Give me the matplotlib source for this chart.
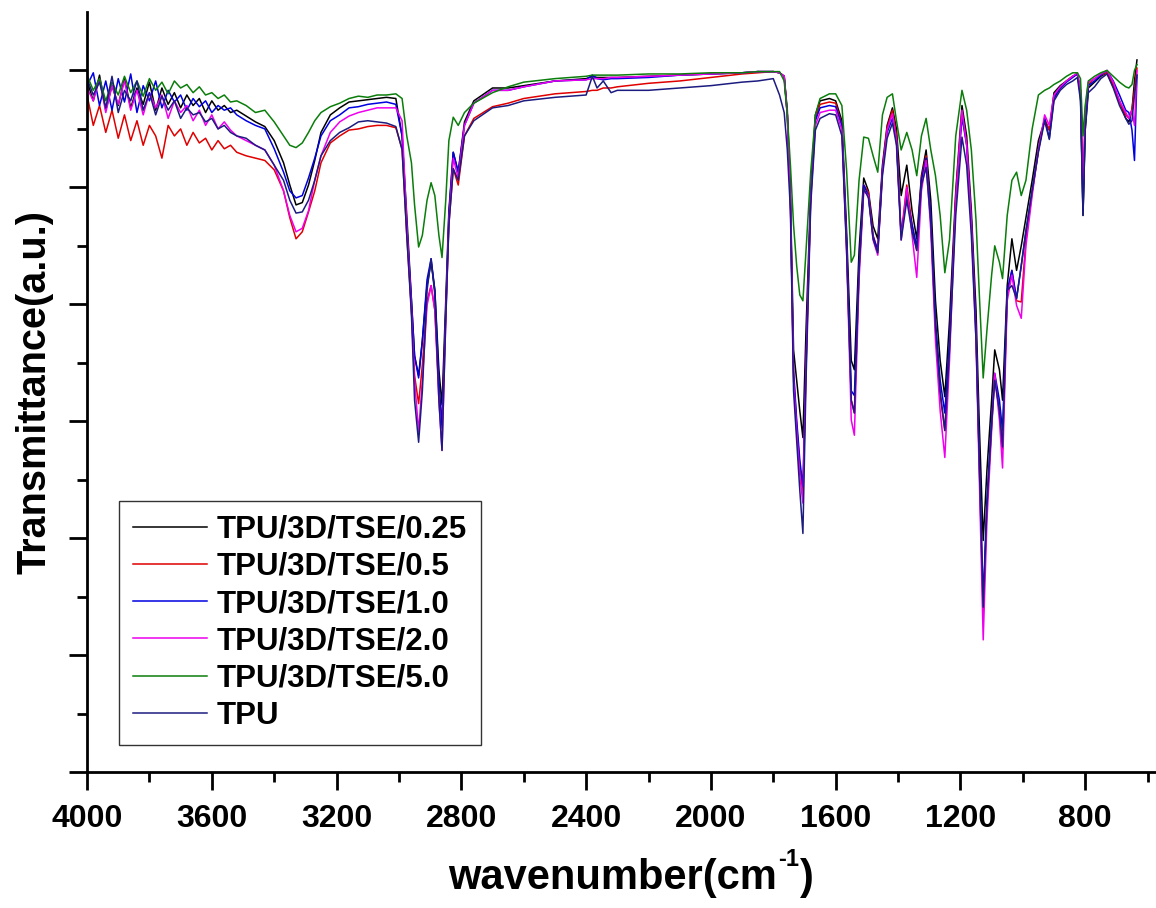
import matplotlib
matplotlib.use('Agg')
import matplotlib.pyplot as plt
from matplotlib.ticker import FixedLocator
from matplotlib.offsetbox import (TextArea, HPacker, VPacker, DrawingArea,
                                  AnchoredOffsetbox)

plt.rcParams['font.family'] = ['Liberation Sans', 'DejaVu Sans']
plt.rcParams['font.weight'] = 'bold'

# wavenumber grid (cm-1)
wavenumber = [
    4000, 3980, 3960, 3940, 3920, 3900, 3880, 3860, 3840, 3820, 3800, 3780, 3760,
    3740, 3720, 3700, 3680, 3660, 3640, 3620, 3600, 3580, 3560, 3540, 3520,
    3490, 3460, 3430, 3400, 3370, 3350, 3330, 3310, 3290, 3270, 3250, 3220, 3190,
    3160, 3130, 3100, 3070, 3040, 3010, 2990, 2975,
    2960, 2950, 2937, 2925, 2910, 2897, 2885, 2872, 2862, 2850, 2840, 2826, 2810,
    2790, 2760, 2700,
    2650, 2600, 2500, 2400, 2380, 2365, 2345, 2320, 2300, 2200, 2100, 2000, 1900,
    1850, 1800, 1780, 1765, 1755,
    1745, 1735, 1725, 1715, 1705, 1695, 1680, 1665, 1650, 1620,
    1600, 1580, 1565, 1550, 1540, 1525, 1510, 1495, 1480, 1465,
    1450, 1435, 1418, 1405, 1390, 1372, 1355, 1340, 1325, 1310,
    1295, 1280, 1265, 1250, 1235, 1215, 1195, 1180, 1165, 1150,
    1140, 1127, 1115, 1100, 1090, 1075, 1065, 1050, 1035, 1020,
    1005, 990, 970, 950, 930, 915, 900, 880, 860, 840,
    825, 815, 807, 800, 790, 770, 750, 730, 710, 690,
    670, 660, 650, 642, 634,
]

tse_025 = [
    59.1, 57.4, 59.6, 56.6, 58.7, 57.0, 59.3, 56.8, 58.5, 57.1, 59.0, 56.6, 58.5,
    57.1, 58.1, 56.8, 57.9, 57.0, 57.6, 56.4, 57.4, 56.6, 57.0, 56.4, 56.6,
    56.1, 55.6, 55.2, 54.0, 52.1, 50.2, 48.5, 48.7, 50.2, 52.3, 54.7, 56.2, 56.8,
    57.3, 57.4, 57.5, 57.6, 57.7, 57.6, 54.4, 47.6,
    40.3, 35.6, 33.9, 36.9, 41.6, 43.6, 41.2, 34.4, 31.4, 40.3, 48.0, 53.0, 51.3,
    55.6, 57.4, 58.5,
    58.5, 58.7, 59.1, 59.3, 59.5, 59.4, 59.4, 59.4, 59.4, 59.5, 59.6, 59.7, 59.8,
    59.9, 59.9, 59.8, 59.5, 56.6,
    49.5, 36.1, 33.5, 30.9, 28.6, 37.8, 49.7, 56.2, 57.4, 57.6,
    57.4, 55.7, 46.3, 35.2, 34.4, 44.6, 50.8, 49.7, 46.7, 45.6,
    51.9, 55.3, 56.8, 55.0, 49.3, 51.9, 48.0, 45.6, 51.0, 53.2,
    48.9, 40.3, 35.2, 32.1, 38.6, 49.7, 57.0, 54.4, 48.0, 39.5,
    30.1, 19.8, 25.8, 31.8, 36.1, 34.4, 31.8, 41.6, 45.6, 42.9,
    45.0, 47.4, 50.6, 54.0, 55.7, 54.9, 58.1, 58.7, 59.1, 59.5,
    59.7, 57.9, 47.6, 54.9, 58.5, 59.0, 59.5, 59.8, 58.6, 57.4,
    55.9, 55.6, 56.6, 59.1, 60.9,
]

tse_05 = [
    57.9, 55.3, 57.0, 54.7, 56.6, 54.2, 56.2, 54.0, 55.7, 53.6, 55.3, 54.4, 52.5,
    55.3, 54.4, 55.0, 53.6, 54.7, 53.8, 54.2, 53.2, 54.0, 53.3, 53.6, 53.0,
    52.7, 52.5, 52.3, 51.5, 49.7, 47.4, 45.6, 46.2, 47.9, 49.7, 52.1, 53.8, 54.4,
    54.9, 55.0, 55.2, 55.3, 55.3, 55.1, 53.3, 45.9,
    39.5, 33.9, 31.5, 34.8, 40.3, 41.6, 39.5, 32.6, 29.9, 39.1, 46.8, 51.6, 50.2,
    54.4, 55.9, 56.9,
    57.2, 57.6, 58.0, 58.2, 58.3, 58.3, 58.5, 58.5, 58.6, 58.9, 59.1, 59.4, 59.7,
    59.8, 59.9, 59.8, 59.5, 56.2,
    48.9, 33.9, 29.7, 26.2, 23.8, 34.8, 49.3, 55.9, 57.1, 57.3,
    57.2, 55.3, 45.0, 31.8, 30.7, 42.9, 50.2, 49.6, 45.9, 44.6,
    51.5, 55.1, 56.6, 54.4, 45.9, 50.2, 46.8, 44.6, 50.8, 52.7,
    47.2, 37.8, 32.2, 29.2, 36.5, 49.3, 56.4, 53.8, 47.2, 37.8,
    26.7, 13.4, 22.8, 29.7, 33.9, 30.9, 27.6, 40.8, 42.9, 40.3,
    40.2, 45.5, 49.6, 53.2, 55.9, 54.9, 57.8, 58.5, 59.1, 59.5,
    59.7, 58.3, 49.3, 56.2, 58.8, 59.3, 59.6, 59.8, 58.8, 57.3,
    56.2, 55.9, 56.7, 58.3, 60.2,
]

tse_10 = [
    58.7, 59.8, 57.0, 59.1, 56.6, 59.3, 57.3, 59.7, 56.4, 58.7, 57.4, 59.1, 56.8,
    58.3, 57.3, 57.9, 56.6, 57.6, 56.9, 57.4, 56.4, 57.0, 56.6, 56.8, 56.2,
    55.7, 55.3, 55.0, 53.3, 51.3, 49.7, 49.1, 49.3, 50.8, 52.5, 54.4, 55.7, 56.2,
    56.8, 56.9, 57.1, 57.2, 57.3, 57.1, 54.4, 46.8,
    40.3, 35.6, 33.7, 36.9, 42.1, 43.9, 41.2, 33.5, 29.4, 39.5, 47.6, 53.0, 51.3,
    55.3, 57.2, 58.3,
    58.3, 58.6, 59.1, 59.2, 59.6, 59.3, 59.2, 59.3, 59.3, 59.4, 59.6, 59.7, 59.8,
    59.9, 59.9, 59.8, 59.5, 56.2,
    48.9, 34.4, 30.1, 26.7, 24.4, 35.2, 49.3, 55.7, 56.8, 57.0,
    56.9, 55.3, 45.5, 32.6, 32.2, 43.3, 50.2, 49.3, 45.8, 44.6,
    51.5, 54.7, 55.9, 54.0, 45.9, 49.3, 46.8, 44.9, 50.6, 52.5,
    47.6, 38.6, 33.5, 30.7, 36.9, 48.9, 56.0, 53.6, 47.2, 37.8,
    27.5, 14.7, 23.2, 30.1, 34.1, 31.8, 29.2, 41.2, 42.9, 40.5,
    43.3, 46.2, 49.7, 53.2, 55.9, 54.2, 57.6, 58.5, 59.0, 59.4,
    59.7, 57.9, 48.0, 55.3, 58.7, 59.1, 59.6, 60.0, 59.1, 57.9,
    56.6, 56.4, 54.9, 52.3, 59.6,
]

tse_20 = [
    58.5, 57.4, 59.3, 56.4, 58.7, 57.1, 59.1, 56.6, 58.3, 56.2, 58.1, 56.8, 57.9,
    55.9, 57.4, 56.4, 57.0, 55.7, 56.6, 55.3, 56.2, 55.0, 55.6, 54.9, 54.4,
    54.0, 53.6, 53.2, 51.9, 49.7, 47.6, 46.2, 46.5, 48.0, 50.6, 52.7, 54.7, 55.6,
    56.1, 56.4, 56.6, 56.8, 56.8, 56.8, 55.7, 46.8,
    39.5, 33.5, 29.1, 33.5, 39.9, 41.6, 39.5, 31.8, 27.5, 38.6, 47.2, 52.5, 50.8,
    55.3, 57.2, 58.3,
    58.3, 58.6, 59.1, 59.2, 59.3, 59.3, 59.3, 59.4, 59.4, 59.5, 59.6, 59.7, 59.8,
    59.9, 59.9, 59.8, 59.5, 56.2,
    48.5, 33.5, 29.2, 25.4, 23.0, 34.4, 48.9, 55.3, 56.4, 56.6,
    56.6, 54.9, 44.6, 30.1, 28.8, 42.1, 49.7, 49.3, 45.5, 44.2,
    51.3, 54.9, 56.3, 54.0, 45.5, 50.0, 45.9, 42.3, 49.7, 52.3,
    46.3, 36.9, 30.9, 26.9, 35.2, 48.9, 56.6, 53.6, 46.8, 36.9,
    25.8, 11.3, 21.5, 29.2, 34.1, 30.1, 26.0, 40.3, 42.5, 39.9,
    38.8, 45.0, 49.3, 53.2, 56.2, 55.3, 57.9, 58.6, 59.1, 59.5,
    59.8, 58.3, 49.7, 56.6, 59.0, 59.3, 59.7, 60.0, 59.0, 57.4,
    56.4, 55.9, 56.6, 55.3, 60.0,
]

tse_50 = [
    59.6, 58.3, 59.3, 57.4, 59.0, 57.9, 59.5, 58.1, 59.1, 57.8, 59.3, 58.3, 59.0,
    58.0, 59.1, 58.5, 58.8, 58.1, 58.6, 57.9, 58.1, 57.6, 57.9, 57.3, 57.4,
    57.0, 56.4, 56.6, 55.6, 54.4, 53.6, 53.4, 53.8, 54.7, 55.7, 56.4, 56.9, 57.2,
    57.6, 57.8, 57.7, 57.9, 57.9, 58.0, 57.6, 54.4,
    52.1, 48.5, 44.9, 45.9, 48.9, 50.4, 49.3, 45.9, 44.0, 48.9, 54.0, 56.0, 55.3,
    56.4, 57.2, 58.1,
    58.6, 59.0, 59.3, 59.5, 59.6, 59.6, 59.6, 59.6, 59.6, 59.7, 59.7, 59.8, 59.8,
    59.9, 59.9, 59.9, 59.1, 56.2,
    51.9, 46.8, 43.3, 40.8, 40.3, 44.6, 51.3, 56.2, 57.6, 58.0,
    58.0, 57.0, 51.5, 43.6, 44.2, 50.6, 54.3, 54.2, 52.7, 51.3,
    56.2, 57.7, 58.0, 55.7, 53.2, 54.7, 53.2, 51.0, 54.4, 55.9,
    53.2, 51.0, 47.6, 42.7, 45.5, 54.4, 58.3, 56.6, 53.2, 47.2,
    41.2, 33.7, 37.8, 42.5, 45.0, 43.6, 42.2, 47.6, 50.6, 51.3,
    49.3, 50.6, 55.0, 57.9, 58.3, 58.5, 58.8, 59.1, 59.5, 59.8,
    59.8, 59.3, 54.4, 57.0, 59.1, 59.5, 59.8, 60.0, 59.5, 59.0,
    58.6, 58.5, 58.8, 60.0, 60.5,
]

tpu = [
    59.3, 57.9, 59.0, 56.8, 59.5, 56.4, 58.3, 57.4, 59.1, 56.6, 58.1, 56.2, 57.8,
    56.6, 57.4, 55.9, 56.8, 56.2, 56.4, 55.6, 55.9, 55.0, 55.3, 54.7, 54.4,
    54.2, 53.6, 53.2, 51.9, 50.6, 48.9, 47.8, 47.9, 48.9, 50.6, 52.7, 54.0, 54.7,
    55.1, 55.6, 55.7, 55.6, 55.5, 55.2, 53.2, 45.9,
    39.1, 31.8, 28.2, 32.6, 41.2, 43.9, 40.8, 31.8, 27.5, 38.6, 46.8, 51.6, 50.6,
    54.4, 55.7, 56.8,
    57.0, 57.4, 57.7, 57.9, 59.5, 58.5, 59.1, 58.1, 58.3, 58.3, 58.5, 58.7, 59.0,
    59.1, 59.3, 57.9, 56.4, 53.2,
    48.0, 32.6, 28.4, 24.1, 20.4, 33.5, 48.5, 54.9, 55.9, 56.3,
    56.2, 54.4, 44.6, 31.8, 30.7, 42.9, 49.9, 49.1, 45.6, 44.4,
    51.0, 54.2, 55.5, 53.6, 45.5, 48.9, 46.2, 44.6, 50.2, 51.7,
    47.0, 38.2, 32.6, 29.2, 36.1, 47.6, 54.3, 51.9, 45.9, 36.9,
    27.1, 14.1, 22.8, 29.7, 33.5, 30.9, 27.8, 41.2, 41.6, 40.5,
    43.3, 46.3, 49.7, 53.0, 55.7, 54.1, 57.4, 58.3, 58.8, 59.1,
    59.4, 57.4, 47.6, 54.9, 58.1, 58.6, 59.3, 59.7, 58.5, 57.0,
    55.9, 55.4, 55.7, 57.9, 59.6,
]

labels = ['TPU/3D/TSE/0.25', 'TPU/3D/TSE/0.5', 'TPU/3D/TSE/1.0',
          'TPU/3D/TSE/2.0', 'TPU/3D/TSE/5.0', 'TPU']
colors = ['#000000', '#e00000', '#0000e0', '#ee00ee', '#0a7d0a', '#1c1c80']
series = [tse_025, tse_05, tse_10, tse_20, tse_50, tpu]

fig = plt.figure(figsize=(11.56, 9.08), dpi=100)
ax = fig.add_axes([0.0753, 0.1498, 0.9247, 0.8370])

for y, lab, c in zip(series, labels, colors):
    ax.plot(wavenumber, y, color=c, lw=1.1, label=lab)

ax.set_xlim(4000, 573)
ax.set_ylim(0, 65)

ax.xaxis.set_major_locator(FixedLocator(list(range(4000, 799, -400))))
ax.xaxis.set_minor_locator(FixedLocator(list(range(3800, 599, -400))))
ax.yaxis.set_major_locator(FixedLocator(list(range(0, 61, 10))))
ax.yaxis.set_minor_locator(FixedLocator(list(range(5, 60, 10))))
ax.tick_params(which='major', direction='out', length=13, width=2,
               labelsize=23, pad=10)
ax.tick_params(which='minor', direction='out', length=7, width=2)
ax.tick_params(axis='y', labelleft=False)
for lbl in ax.get_xticklabels():
    lbl.set_fontweight('bold')

ax.spines['top'].set_visible(False)
ax.spines['right'].set_visible(False)
ax.spines['left'].set_linewidth(2)
ax.spines['bottom'].set_linewidth(2)

# x label, superscript raised with a spacer below it
sup = VPacker(children=[
    TextArea('-1', textprops=dict(fontsize=17, fontweight='bold')),
    DrawingArea(1, 19),
], align='left', pad=0, sep=0)
xl = HPacker(children=[
    TextArea('wavenumber(cm', textprops=dict(fontsize=30, fontweight='bold')),
    sup,
    TextArea(')', textprops=dict(fontsize=30, fontweight='bold')),
], align='bottom', pad=0, sep=1)
fig.add_artist(AnchoredOffsetbox(loc='center', child=xl, frameon=False,
                                 bbox_to_anchor=(631 / 1156, 1 - 873 / 908),
                                 bbox_transform=fig.transFigure,
                                 pad=0, borderpad=0))

ax.set_ylabel('Transmittance(a.u.)', fontsize=28.5, fontweight='bold')
ax.yaxis.set_label_coords(-0.031, 0.5)

leg = ax.legend(loc='upper left', bbox_to_anchor=(0.030, 0.357),
                fontsize=22.5, frameon=True, fancybox=False,
                handlelength=2.35, handletextpad=0.33, labelspacing=0.23,
                borderpad=0.45, borderaxespad=0)
leg.get_frame().set_edgecolor('black')
leg.get_frame().set_linewidth(1.0)
for t in leg.get_texts():
    t.set_fontweight('bold')

fig.savefig('out.png', dpi=100)
